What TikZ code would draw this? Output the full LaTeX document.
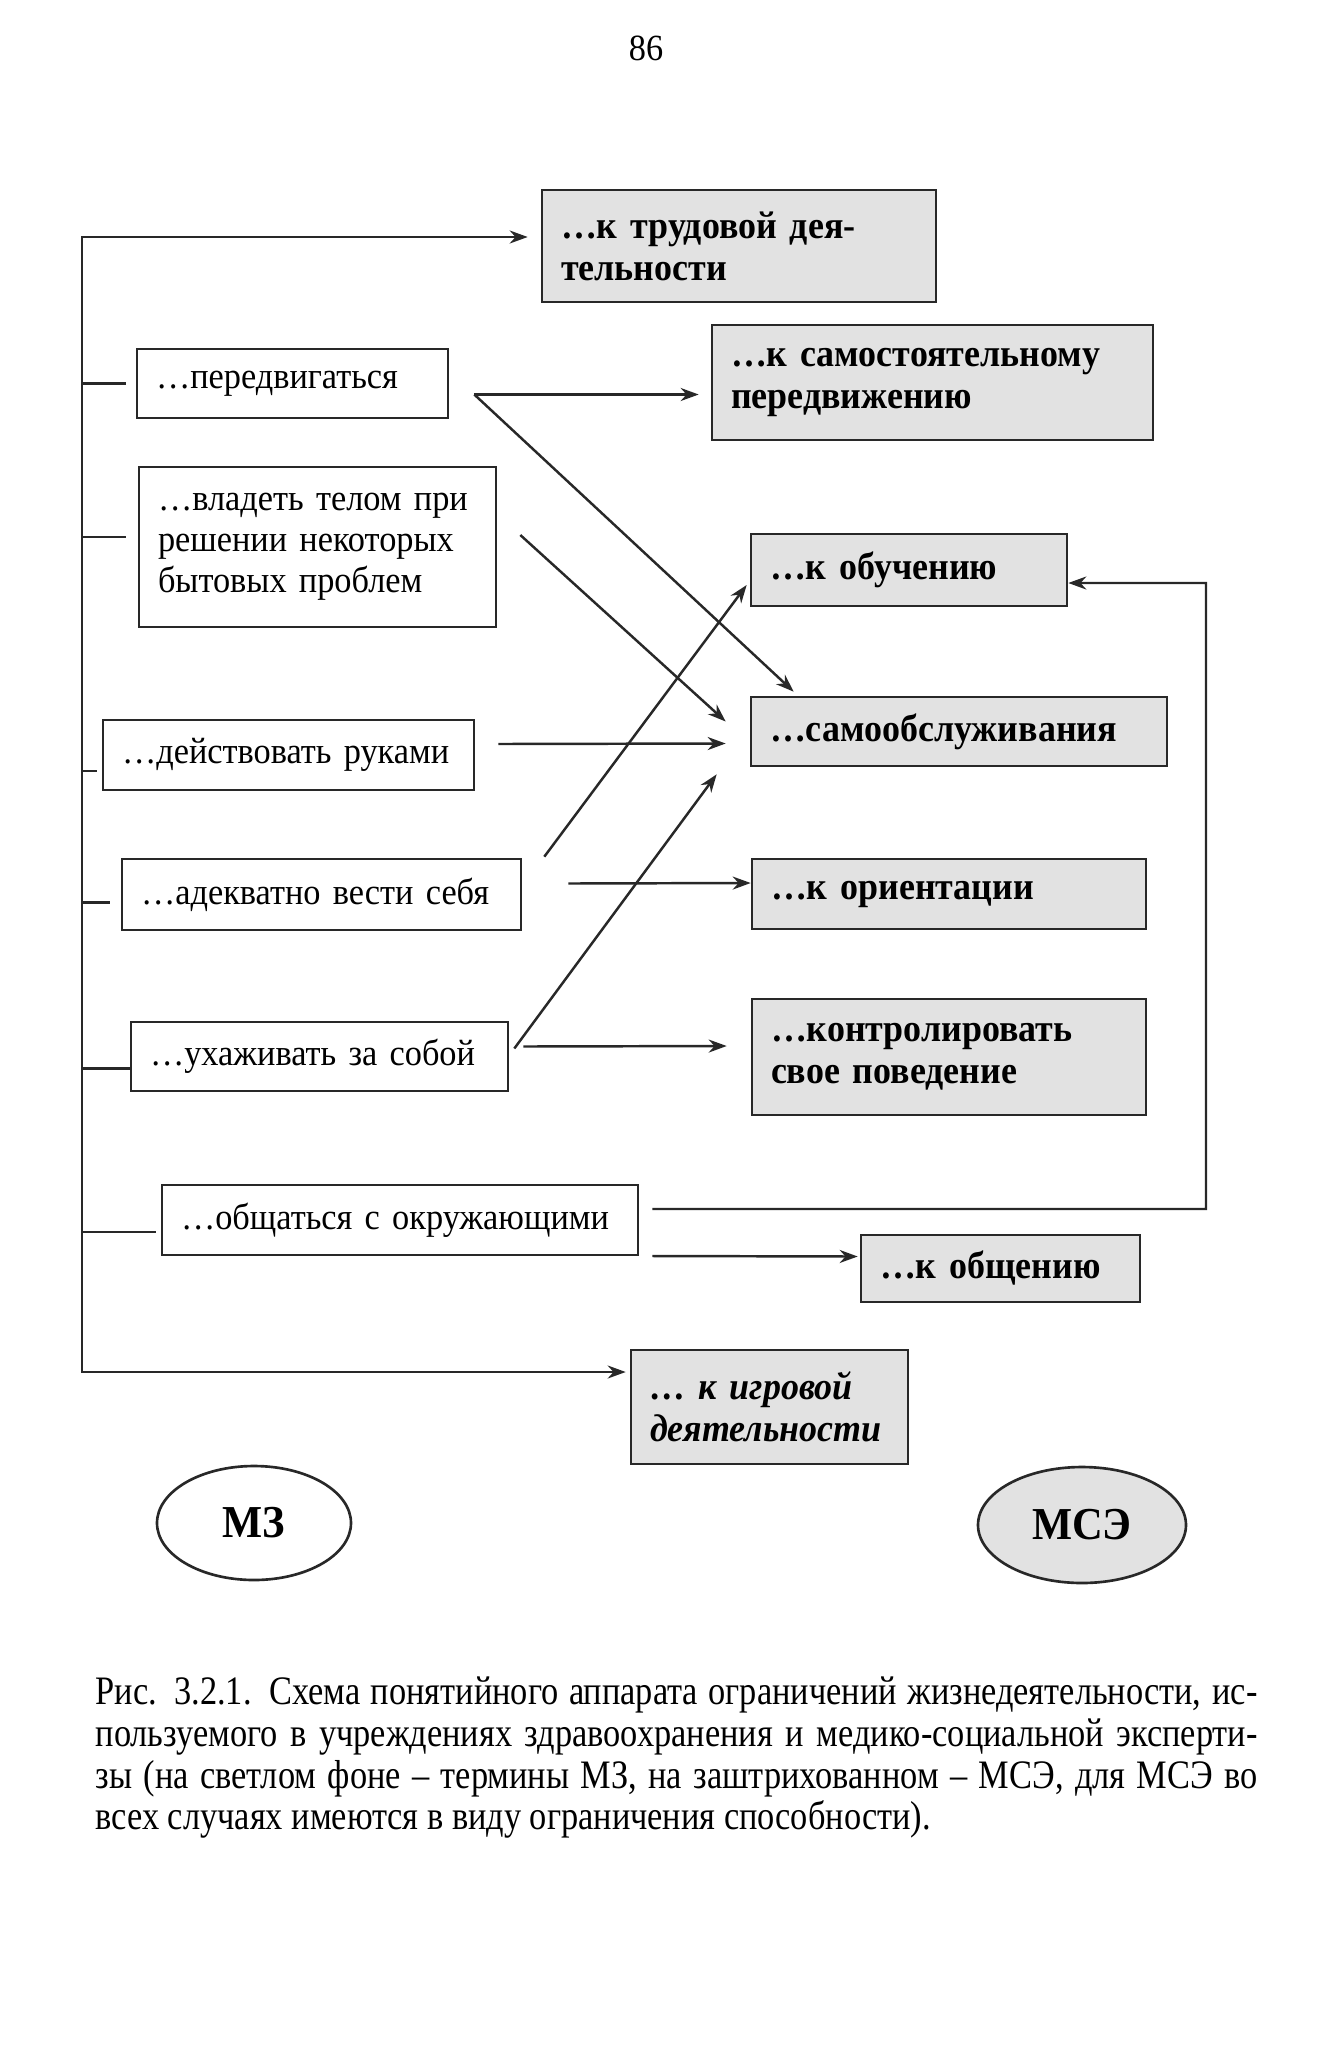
\documentclass[tikz,border=0pt]{standalone}
\usepackage{fontspec}
\setmainfont{Liberation Serif}[FakeStretch=0.93]
\newfontfamily\capfont[FakeStretch=0.85]{Liberation Serif}
\usepackage{tikz}
\usetikzlibrary{calc}
\usetikzlibrary{arrows.meta}
\usetikzlibrary{shapes.geometric}

\definecolor{linec}{RGB}{40,40,40}
\definecolor{boxgray}{RGB}{226,226,226}
\newcommand{\mzfont}{\fontsize{10.5}{11.7}\selectfont}
\newcommand{\msefont}{\fontsize{11}{11.9}\selectfont\bfseries}
\newcommand{\capsize}{\capfont\fontsize{11.5}{11.9}\selectfont}

\begin{document}
\begin{tikzpicture}[x=0.1mm, y=-0.1mm]
	\fill[white] (0,0) rectangle (1332,2050);
	\useasboundingbox (0,0) rectangle (1332,2050);

	\node[font=\mzfont] (pnum) at (646,48) {86};

	\begin{scope}[every node/.style={draw=linec, line width=0.75pt, align=left, inner xsep=1.9mm, inner ysep=0pt}]
	\node[fill=white, font=\mzfont, text width=27.3mm, minimum height=6.9mm] (move) at (292.5,383.5) {…передвигаться};
	\node[fill=white, font=\mzfont, text width=31.9mm, minimum height=16mm] (body) at (317.5,547) {…владеть~телом~при\\решении~некоторых\\бытовых~проблем};
	\node[fill=white, font=\mzfont, text width=33.3mm, minimum height=7mm] (hands) at (288.5,755) {…действовать~руками};
	\node[fill=white, font=\mzfont, text width=36.1mm, minimum height=7.1mm] (behave) at (321.5,894.5) {…адекватно~вести~себя};
	\node[fill=white, font=\mzfont, text width=33.9mm, minimum height=6.9mm] (care) at (319.5,1056.5) {…ухаживать~за~собой};
	\node[fill=white, font=\mzfont, text width=43.8mm, minimum height=7mm] (talk) at (400,1220) {…общаться~с~окружающими};

	\node[fill=boxgray, font=\msefont, text width=35.6mm, minimum height=11.2mm] (work) at (739,246) {…к~трудовой~дея-\\тельности};
	\node[fill=boxgray, font=\msefont, text width=40.3mm, minimum height=11.5mm] (selfmove) at (932.5,382.5) {…к~самостоятельному\\передвижению};
	\node[fill=boxgray, font=\msefont, text width=27.8mm, minimum height=7.2mm] (learn) at (909,570) {…к~обучению};
	\node[fill=boxgray, font=\msefont, text width=37.8mm, minimum height=6.9mm] (selfcare) at (959,731.5) {…самообслуживания};
	\node[fill=boxgray, font=\msefont, text width=35.6mm, minimum height=7mm] (orient) at (949,894) {…к~ориентации};
	\node[fill=boxgray, font=\msefont, text width=35.6mm, minimum height=11.6mm] (control) at (949,1057) {…контролировать\\свое~поведение};
	\node[fill=boxgray, font=\msefont, text width=24.1mm, minimum height=6.7mm] (commun) at (1000.5,1268.5) {…к~общению};
	\node[fill=boxgray, font=\msefont\itshape, text width=23.9mm, minimum height=11.4mm] (play) at (769.5,1407) {…~к~игровой\\деятельности};
	\end{scope}

	\node[ellipse, draw=linec, line width=0.75pt, fill=white, minimum width=19.4mm, minimum height=11.4mm, inner sep=0pt, font=\fontsize{13}{13}\selectfont\bfseries] (mz) at (254,1523) {МЗ};
	\node[ellipse, draw=linec, line width=0.75pt, fill=boxgray, minimum width=20.8mm, minimum height=11.6mm, inner sep=0pt, font=\fontsize{13}{13}\selectfont\bfseries] (mse) at (1082,1525) {МСЭ};

	\begin{scope}[>={Stealth[length=1.8mm,width=1.3mm]},
	every edge/.style={draw=linec, line width=0.7pt}]
	\coordinate (bustop) at (82,237);
	\coordinate (busbot) at (82,1372);
	\coordinate (loop) at (1206,583);
	\draw[<->, linec, line width=0.7pt] ([xshift=-1.3mm]bustop -| work.west) -- (bustop) -- (busbot) -- ([xshift=-0.4mm]busbot -| play.west);

	\path (bustop |- move.west) edge ([xshift=-1mm]move.west);
	\path ([yshift=1mm]bustop |- body.west) edge ([xshift=-1.2mm, yshift=1mm]body.west);
	\path ([yshift=-1.6mm]bustop |- hands.west) edge ([xshift=-0.5mm, yshift=-1.6mm]hands.west);
	\path ([yshift=-0.8mm]bustop |- behave.west) edge ([xshift=-1.1mm, yshift=-0.8mm]behave.west);
	\path ([yshift=-1.2mm]bustop |- care.west) edge ([yshift=-1.2mm]care.west);
	\path ([yshift=-1.2mm]bustop |- talk.west) edge ([xshift=-0.5mm, yshift=-1.2mm]talk.west);

	\path [->] ([shift={(25,11)}]move.east) edge ([shift={(-12,12)}]selfmove.west);
	\path [->] ([shift={(25,11)}]move.east) edge ([shift={(44,-4)}]selfcare.north west);
	\path [->] ([shift={(23,-12)}]body.east) edge ([shift={(-24,-10)}]selfcare.west);
	\path [->] ([shift={(23,-11)}]hands.east) edge ([shift={(-24,12)}]selfcare.west);
	\path [->] ([shift={(22,-1)}]behave.north east) edge ([shift={(-3,15)}]learn.west);
	\path [->] ([shift={(46,-11)}]behave.east) edge ([shift={(0,-11)}]orient.west);
	\path [->] ([shift={(5,-8)}]care.east) edge ([shift={(-33,7)}]selfcare.south west);
	\path [->] ([shift={(14,-10)}]care.east) edge ([shift={(-24,-11)}]control.west);
	\path [->] ([shift={(13,36)}]talk.east) edge ([shift={(-2,-12)}]commun.west);
	\draw[->, linec, line width=0.7pt] ([shift={(13,-11)}]talk.east) -| (loop) -- ([yshift=-1.3mm]learn.east);
	\end{scope}

	\node[anchor=north west, inner sep=0pt, align=left, font=\capsize] (cap) at (95,1676) {%
	\makebox[116.2mm][s]{Рис. 3.2.1. Схема понятийного аппарата ограничений жизнедеятельности, ис-}\\
	\makebox[116.2mm][s]{пользуемого в учреждениях здравоохранения и медико-социальной эксперти-}\\
	\makebox[116.2mm][s]{зы (на светлом фоне – термины МЗ, на заштрихованном – МСЭ, для МСЭ во}\\
	всех случаях имеются в виду ограничения способности).};
\end{tikzpicture}
\end{document}
